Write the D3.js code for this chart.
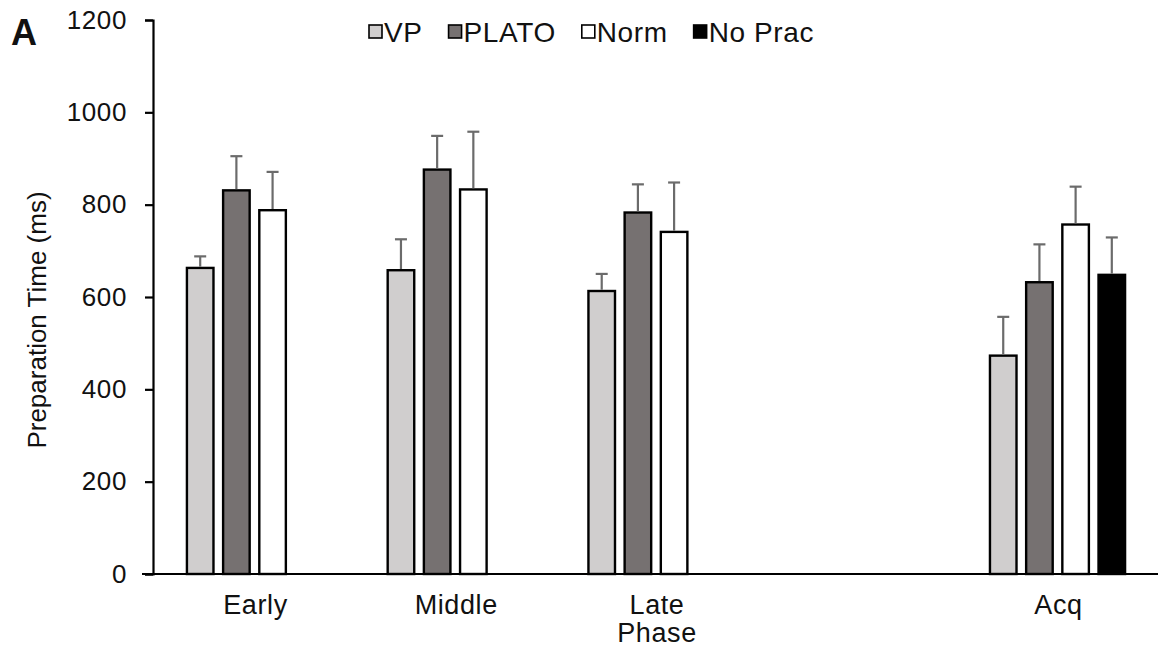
<!DOCTYPE html>
<html lang="en">
<head>
<meta charset="utf-8">
<title>Preparation Time</title>
<script type="text/javascript" src="https://d3js.org/d3.v7.min.js"></script>
<style>
  body { margin: 0; background: white; }
  text { font-family: "Liberation Sans", Arial, sans-serif; fill: #111; }
  .axis text { font-size: 26px; letter-spacing: 0.6px; }
  .axis.x text { font-size: 27px; }
</style>
</head>
<body>
<div id="chart"></div>
<script type="text/javascript">
const width = 1158;
const height = 657;

// data
const phases = ["Early", "Middle", "Late", "gap", "Acq"];
const phaseLabels = ["Early", "Middle", "Late", "", "Acq"];
const groups = ["VP", "PLATO", "Norm", "No Prac"];
const colors = ["#d0cece", "#767171", "#ffffff", "#000000"];
const vpMean = [663, 658, 613, null, 473];
const vpErr = [25, 67, 37, null, 84];
const platoMean = [831, 876, 783, null, 632];
const platoErr = [74, 73, 61, null, 82];
const normMean = [788, 833, 741, null, 757];
const normErr = [83, 125, 107, null, 82];
const noPracMean = [null, null, null, null, 648];
const noPracErr = [null, null, null, null, 81];
const yTicks = [0, 200, 400, 600, 800, 1000, 1200];

const means = [vpMean, platoMean, normMean, noPracMean];
const errs = [vpErr, platoErr, normErr, noPracErr];

const rows = [];
phases.forEach((p, i) => {
  groups.forEach((g, j) => {
    if (means[j][i] != null) {
      rows.push({ phase: p, group: g, mean: means[j][i], err: errs[j][i], color: colors[j] });
    }
  });
});

const svg = d3.select("#chart")
  .append("svg")
  .attr("width", width)
  .attr("height", height);

const y = d3.scaleLinear()
  .domain([0, 1200])
  .range([574, 20]);

const x0 = d3.scaleBand()
  .domain(phases)
  .range([153, 1159])
  .paddingInner(0.315)
  .paddingOuter(0.163);

const x1 = d3.scaleBand()
  .domain(groups)
  .range([0, x0.bandwidth()])
  .paddingInner(0.2);

// y axis
const yAxis = d3.axisLeft(y)
  .tickValues(yTicks)
  .tickFormat(d3.format("d"))
  .tickSize(8)
  .tickPadding(18);

const yG = svg.append("g")
  .attr("class", "axis y")
  .attr("transform", "translate(153,0)")
  .call(yAxis);
yG.select(".domain").attr("stroke", "#000").attr("stroke-width", 2.2);
yG.selectAll(".tick line").attr("stroke", "#000").attr("stroke-width", 2.2);
yG.selectAll(".tick text").attr("fill", "#111");

// x baseline
svg.append("line")
  .attr("x1", 142)
  .attr("x2", width)
  .attr("y1", y(0))
  .attr("y2", y(0))
  .attr("stroke", "#000")
  .attr("stroke-width", 2.2);

// x labels
const xAxis = d3.axisBottom(x0)
  .tickSize(0)
  .tickPadding(21)
  .tickFormat((d, i) => phaseLabels[i]);
const xG = svg.append("g")
  .attr("class", "axis x")
  .attr("transform", "translate(1," + y(0) + ")")
  .call(xAxis);
xG.select(".domain").remove();
xG.selectAll(".tick text").attr("fill", "#111");

svg.append("text")
  .attr("x", x0("Late") + x0.bandwidth() / 2 + 1)
  .attr("y", 642)
  .attr("text-anchor", "middle")
  .style("font-size", "27px")
  .style("letter-spacing", "0.6px")
  .text("Phase");

// y title
svg.append("text")
  .attr("transform", "translate(46,320) rotate(-90)")
  .attr("text-anchor", "middle")
  .style("font-size", "26px")
  .text("Preparation Time (ms)");

// panel letter
svg.append("text")
  .attr("x", 11)
  .attr("y", 45)
  .style("font-size", "36px")
  .style("font-weight", "bold")
  .text("A");

// bars
const bars = svg.append("g").attr("class", "bars");
bars.selectAll("rect")
  .data(rows)
  .enter()
  .append("rect")
  .attr("x", d => x0(d.phase) + x1(d.group) + 1.2)
  .attr("y", d => y(d.mean))
  .attr("width", x1.bandwidth() - 2.4)
  .attr("height", d => y(0) - y(d.mean))
  .attr("fill", d => d.color)
  .attr("stroke", "#000")
  .attr("stroke-width", 2.4);

// error bars (upper only)
const eb = svg.append("g").attr("class", "errors");
eb.selectAll("line.v")
  .data(rows)
  .enter()
  .append("line")
  .attr("class", "v")
  .attr("x1", d => x0(d.phase) + x1(d.group) + x1.bandwidth() / 2)
  .attr("x2", d => x0(d.phase) + x1(d.group) + x1.bandwidth() / 2)
  .attr("y1", d => y(d.mean) - 1.2)
  .attr("y2", d => y(d.mean + d.err))
  .attr("stroke", "#6b6b6b")
  .attr("stroke-width", 2.2);
eb.selectAll("line.cap")
  .data(rows)
  .enter()
  .append("line")
  .attr("class", "cap")
  .attr("x1", d => x0(d.phase) + x1(d.group) + x1.bandwidth() / 2 - 6)
  .attr("x2", d => x0(d.phase) + x1(d.group) + x1.bandwidth() / 2 + 6)
  .attr("y1", d => y(d.mean + d.err))
  .attr("y2", d => y(d.mean + d.err))
  .attr("stroke", "#6b6b6b")
  .attr("stroke-width", 2.2);

// legend
const legend = svg.append("g").attr("class", "legend");
let lx = 369;
groups.forEach((g, i) => {
  legend.append("rect")
    .attr("x", lx)
    .attr("y", 25)
    .attr("width", 13)
    .attr("height", 13)
    .attr("fill", colors[i])
    .attr("stroke", "#000")
    .attr("stroke-width", 1.6);
  const t = legend.append("text")
    .attr("x", lx + 15)
    .attr("y", 41.5)
    .style("font-size", "28px")
    .style("letter-spacing", "0.6px")
    .text(g);
  lx = lx + 15 + t.node().getComputedTextLength() + 26;
});
</script>
</body>
</html>
